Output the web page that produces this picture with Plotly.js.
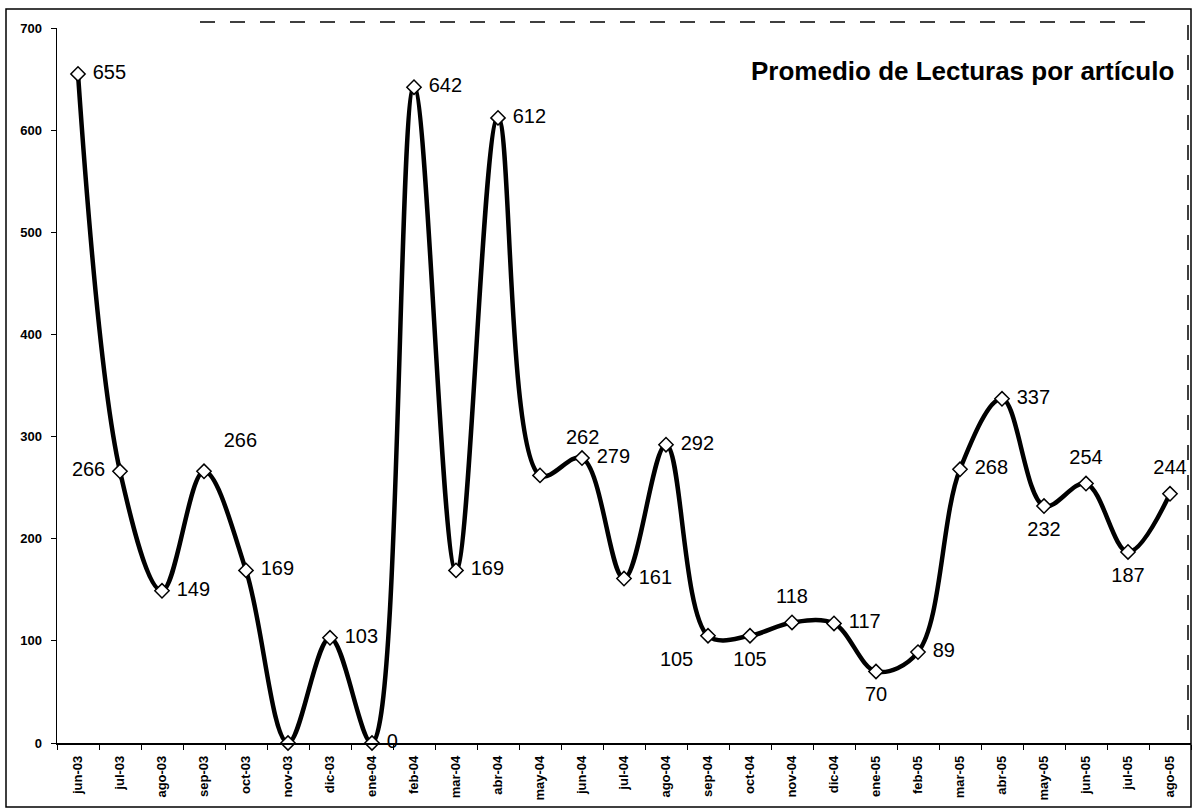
<!DOCTYPE html>
<html>
<head>
<meta charset="utf-8">
<script src="https://cdn.plot.ly/plotly-3.0.1.min.js"></script>
<style>
  html, body { margin: 0; padding: 0; background: #ffffff; }
  #chart { width: 1198px; height: 811px; }
</style>
</head>
<body>
<div id="chart"></div>
<script>
// ---- data ----
const categories = ["jun-03","jul-03","ago-03","sep-03","oct-03","nov-03","dic-03","ene-04",
  "feb-04","mar-04","abr-04","may-04","jun-04","jul-04","ago-04","sep-04","oct-04","nov-04",
  "dic-04","ene-05","feb-05","mar-05","abr-05","may-05","jun-05","jul-05","ago-05"];
const lecturas = [655, 266, 149, 266, 169, 0, 103, 0, 642, 169, 612, 262, 279, 161, 292,
  105, 105, 118, 117, 70, 89, 268, 337, 232, 254, 187, 244];
const chartTitle = "Promedio de Lecturas por artículo";
const yTicks = [0, 100, 200, 300, 400, 500, 600, 700];

// label placement for each data label (null = no label shown)
const labelPos = ["middle right","middle left","middle right","top right","middle right",null,
  "middle right","middle right","middle right","middle right","middle right","top right",
  "middle right","middle right","middle right","bottom left","bottom center","top center",
  "middle right","bottom center","middle right","middle right","middle right","bottom center",
  "top center","bottom center","top center"];
// label distance from its point (invisible marker size used as offset)
const labelGap = [22,22,22,30,22,22,22,22,22,22,22,40,22,22,22,22,22,22,22,22,22,22,22,22,22,22,22];

const W = 1198, H = 811;
const M = {l: 57, r: 7, t: 28, b: 68};
const pw = W - M.l - M.r, ph = H - M.t - M.b;
function px2x(px) { return (px - M.l) / pw; }
function py2y(py) { return 1 - (py - M.t) / ph; }

const FONT = "Liberation Sans, Arial, sans-serif";

const lineTrace = {
  type: "scatter",
  mode: "lines+markers",
  x: categories,
  y: lecturas,
  line: {color: "#000", width: 4.5, shape: "spline", smoothing: 1},
  marker: {symbol: "diamond", size: 11, color: "#fff", line: {color: "#000", width: 1.5}},
  cliponaxis: false,
  hoverinfo: "x+y"
};

// labels: invisible wider markers so the text sits a little away from the point
const labelTrace = {
  type: "scatter",
  mode: "markers+text",
  x: categories,
  y: lecturas,
  text: lecturas.map((v, i) => labelPos[i] ? String(v) : ""),
  textposition: labelPos.map(p => p || "middle right"),
  textfont: {family: FONT, size: 20, color: "#000"},
  marker: {size: labelGap, color: "rgba(0,0,0,0)", line: {width: 0}},
  cliponaxis: false,
  hoverinfo: "skip"
};

const layout = {
  width: W, height: H,
  margin: M,
  paper_bgcolor: "#fff",
  plot_bgcolor: "#fff",
  showlegend: false,
  xaxis: {
    type: "category",
    range: [-0.5, categories.length - 0.5],
    tickson: "boundaries",
    ticks: "outside", ticklen: 5, tickcolor: "#000", tickwidth: 1,
    tickangle: -90,
    tickfont: {family: FONT, size: 13, color: "#000", weight: "bold"},
    showline: true, linecolor: "#000", linewidth: 1.5,
    showgrid: false, zeroline: false,
    ticklabelstandoff: 6
  },
  yaxis: {
    range: [0, 700],
    tickvals: yTicks,
    ticktext: yTicks.map(String),
    ticks: "outside", ticklen: 5, tickcolor: "#000", tickwidth: 1,
    tickfont: {family: FONT, size: 13, color: "#000", weight: "bold"},
    showline: true, linecolor: "#000", linewidth: 1.5,
    showgrid: false, zeroline: false,
    ticklabelstandoff: 6
  },
  annotations: [{
    text: chartTitle,
    xref: "paper", yref: "paper",
    x: px2x(1176), y: py2y(71),
    xanchor: "right", yanchor: "middle",
    showarrow: false,
    font: {family: FONT, size: 26, color: "#000", weight: "bold"}
  }],
  shapes: [
    {type: "rect", xref: "paper", yref: "paper",
     x0: px2x(6), x1: px2x(1191), y0: py2y(9), y1: py2y(807),
     line: {color: "#000", width: 1.5}, fillcolor: "rgba(0,0,0,0)", layer: "below"},
    {type: "line", xref: "paper", yref: "paper",
     x0: px2x(1188), x1: px2x(1188), y0: py2y(25), y1: py2y(743),
     line: {color: "#000", width: 1.5, dash: "longdash"}},
    {type: "line", xref: "paper", yref: "paper",
     x0: px2x(200), x1: px2x(1150), y0: py2y(22), y1: py2y(22),
     line: {color: "#000", width: 1.5, dash: "longdash"}}
  ]
};

Plotly.newPlot("chart", [lineTrace, labelTrace], layout, {displayModeBar: false, staticPlot: true});
</script>
</body>
</html>
